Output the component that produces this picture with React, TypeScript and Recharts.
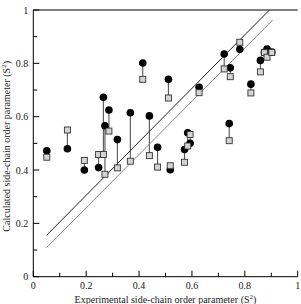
import React from "react";
import {
  ComposedChart,
  Scatter,
  XAxis,
  YAxis,
  ReferenceLine,
} from "recharts";

// experimental S2 for each side chain
const expS2 = [
  0.051, 0.129, 0.193, 0.247, 0.265, 0.271, 0.286, 0.318, 0.367, 0.414, 0.439,
  0.47, 0.511, 0.518, 0.572, 0.584, 0.593, 0.627, 0.722, 0.741, 0.745, 0.781,
  0.823, 0.859, 0.874, 0.884, 0.902,
];
// calculated S2, first model (filled circles)
const calcCircle = [
  0.472, 0.48, 0.4, 0.409, 0.673, 0.566, 0.625, 0.514, 0.615, 0.801, 0.603,
  0.485, 0.74, 0.401, 0.477, 0.54, 0.5, 0.71, 0.835, 0.574, 0.783, 0.853,
  0.722, 0.811, 0.841, 0.854, 0.842,
];
// calculated S2, second model (grey squares)
const calcSquare = [
  0.448, 0.55, 0.436, 0.458, 0.458, 0.384, 0.546, 0.408, 0.433, 0.74, 0.454,
  0.411, 0.67, 0.416, 0.429, 0.49, 0.533, 0.69, 0.779, 0.51, 0.75, 0.879,
  0.689, 0.768, 0.84, 0.823, 0.841,
];

// fitted lines
const fitDarkX = [0.05, 0.893];
const fitDarkY = [0.155, 1.0];
const fitLightX = [0.05, 0.905];
const fitLightY = [0.109, 0.962];

const ticks = [0, 0.1, 0.2, 0.3, 0.4, 0.5, 0.6, 0.7, 0.8, 0.9, 1];

const circles = expS2.map((x, i) => ({ x, y: calcCircle[i] }));
const squares = expS2.map((x, i) => ({ x, y: calcSquare[i] }));
const darkFit = fitDarkX.map((x, i) => ({ x, y: fitDarkY[i] }));
const lightFit = fitLightX.map((x, i) => ({ x, y: fitLightY[i] }));

const txt = { fontFamily: "Liberation Serif", fontSize: 10 };

const fmt = (v: number) => (v === 0 || v === 1 ? String(v) : v.toFixed(1));

const Tick = ({ x, y, payload, side }: any) => {
  const v = payload.value;
  const major = Math.round(v * 10) % 2 === 0;
  const len = major ? 6 : 4;
  let line;
  let label = null;
  if (side === "bottom") {
    line = <line x1={x} y1={y} x2={x} y2={y - len} stroke="#000" />;
    if (major)
      label = (
        <text x={x} y={y + 12.5} textAnchor="middle" style={txt} fill="#222">
          {fmt(v)}
        </text>
      );
  } else if (side === "left") {
    line = <line x1={x} y1={y} x2={x + len} y2={y} stroke="#000" />;
    if (major)
      label = (
        <text x={x - 5} y={y + 3.5} textAnchor="end" style={txt} fill="#222">
          {fmt(v)}
        </text>
      );
  } else if (side === "top") {
    line = <line x1={x} y1={y} x2={x} y2={y + len} stroke="#000" />;
  } else {
    line = <line x1={x} y1={y} x2={x - len} y2={y} stroke="#000" />;
  }
  return (
    <g>
      {line}
      {label}
    </g>
  );
};

const CircleDot = ({ cx, cy }: any) => <circle cx={cx} cy={cy} r={3.8} fill="#000" />;
const SquareDot = ({ cx, cy }: any) => (
  <rect x={cx - 3} y={cy - 3} width={6} height={6} fill="#d4d4d4" stroke="#333" strokeWidth={0.9} />
);

export default function App() {
  return (
    <div style={{ position: "absolute", left: 0, top: 0, background: "#fff" }}>
      <ComposedChart
        width={301}
        height={304}
        margin={{ top: 0, right: 3.3, left: 0, bottom: 0 }}
      >
        <XAxis
          xAxisId="b"
          dataKey="x"
          type="number"
          domain={[0, 1]}
          ticks={ticks}
          interval={0}
          height={27.3}
          tickSize={0}
          tickMargin={0}
          stroke="#000"
          tick={(p: any) => <Tick {...p} side="bottom" />}
          label={({ viewBox }: any) => (
            <text
              x={viewBox.x + viewBox.width / 2}
              y={viewBox.y + 26}
              textAnchor="middle"
              style={txt}
              fill="#222"
            >
              Experimental side-chain order parameter (S
              <tspan dy={-4} fontSize={7}>2</tspan>
              <tspan dy={4}>)</tspan>
            </text>
          )}
        />
        <XAxis
          xAxisId="t"
          orientation="top"
          type="number"
          dataKey="x"
          domain={[0, 1]}
          ticks={ticks}
          interval={0}
          height={10}
          tickSize={0}
          tickMargin={0}
          stroke="#000"
          tick={(p: any) => <Tick {...p} side="top" />}
        />
        <YAxis
          yAxisId="l"
          dataKey="y"
          type="number"
          domain={[0, 1]}
          ticks={ticks}
          interval={0}
          width={33.3}
          tickSize={0}
          tickMargin={0}
          stroke="#000"
          tick={(p: any) => <Tick {...p} side="left" />}
          label={({ viewBox }: any) => {
            const cx = viewBox.x + 10;
            const cy = viewBox.y + viewBox.height / 2 + 3;
            return (
              <text
                x={cx}
                y={cy}
                transform={`rotate(-90, ${cx}, ${cy})`}
                textAnchor="middle"
                style={txt}
                fill="#222"
              >
                Calculated side-chain order parameter (S
                <tspan dy={-4} fontSize={7}>2</tspan>
                <tspan dy={4}>)</tspan>
              </text>
            );
          }}
        />
        <YAxis
          yAxisId="r"
          orientation="right"
          dataKey="y"
          type="number"
          domain={[0, 1]}
          ticks={ticks}
          interval={0}
          width={0}
          tickSize={0}
          tickMargin={0}
          stroke="#000"
          tick={(p: any) => <Tick {...p} side="right" />}
        />
        {expS2.map((x, i) => (
          <ReferenceLine
            key={i}
            xAxisId="b"
            yAxisId="l"
            segment={[
              { x, y: calcCircle[i] },
              { x, y: calcSquare[i] },
            ]}
            stroke="#555"
            strokeWidth={1.1}
          />
        ))}
        <Scatter
          xAxisId="b"
          yAxisId="l"
          data={darkFit}
          line={{ stroke: "#222", strokeWidth: 1 }}
          shape={() => null}
          isAnimationActive={false}
        />
        <Scatter
          xAxisId="b"
          yAxisId="l"
          data={lightFit}
          line={{ stroke: "#888", strokeWidth: 1 }}
          shape={() => null}
          isAnimationActive={false}
        />
        <Scatter xAxisId="t" yAxisId="r" data={[]} isAnimationActive={false} />
        <Scatter
          xAxisId="b"
          yAxisId="l"
          data={circles}
          shape={<CircleDot />}
          isAnimationActive={false}
        />
        <Scatter
          xAxisId="b"
          yAxisId="l"
          data={squares}
          shape={<SquareDot />}
          isAnimationActive={false}
        />
      </ComposedChart>
    </div>
  );
}
